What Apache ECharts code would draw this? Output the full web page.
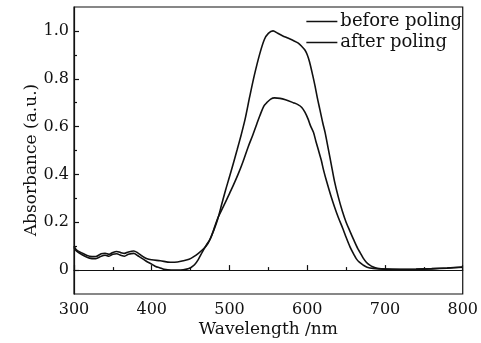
<!DOCTYPE html>
<html>
<head>
<meta charset="utf-8">
<script src="https://cdn.jsdelivr.net/npm/echarts@6/dist/echarts.min.js"></script>
<style>html,body{margin:0;padding:0;background:#fff;}#c{width:481px;height:343px;}</style>
</head>
<body>
<div id="c"></div>
<script>
// Wavelength (nm) and absorbance
const beforeWl = [300,303,310,320,328,335,340,345,350,355,360,365,370,377,382,388,394,400,405,410,416,425,437,445,450,455,460,465,470,475,480,485,490,495,500,505,510,515,520,526,532,539,545,550,556,562,568,575,582,588,593,597,600,603,607,610,613,616,620,623,627,631,635,640,645,650,655,660,665,668,672,676,680,685,690,700,720,740,760,780,800];
const beforeAbs = [0.095,0.08,0.065,0.05,0.048,0.058,0.062,0.058,0.066,0.068,0.062,0.058,0.066,0.07,0.06,0.048,0.035,0.025,0.015,0.01,0.003,0.0,0.0,0.004,0.01,0.022,0.045,0.075,0.103,0.13,0.168,0.215,0.275,0.335,0.39,0.447,0.505,0.565,0.63,0.725,0.815,0.905,0.965,0.99,1.0,0.99,0.98,0.97,0.96,0.95,0.935,0.92,0.9,0.87,0.815,0.77,0.72,0.675,0.615,0.575,0.508,0.44,0.372,0.305,0.248,0.2,0.162,0.125,0.09,0.073,0.05,0.033,0.022,0.013,0.008,0.004,0.002,0.003,0.005,0.008,0.012];
const afterWl = [300,303,310,320,328,335,340,345,350,355,360,365,370,377,382,388,394,400,411,424,433,441,448,454,460,467,472,476,480,485,490,495,500,505,511,517,524,530,535,539,544,548,553,558,565,572,582,588,593,597,601,604,608,611,614,618,621,625,630,635,640,646,650,655,660,663,667,672,677,685,700,720,740,760,780,800];
const afterAbs = [0.1,0.085,0.072,0.058,0.057,0.068,0.07,0.066,0.074,0.078,0.073,0.07,0.076,0.08,0.072,0.058,0.047,0.043,0.039,0.033,0.034,0.039,0.045,0.056,0.07,0.09,0.11,0.135,0.172,0.218,0.252,0.285,0.32,0.355,0.4,0.45,0.515,0.565,0.61,0.645,0.685,0.7,0.715,0.72,0.718,0.712,0.7,0.692,0.68,0.66,0.632,0.605,0.576,0.54,0.506,0.46,0.418,0.37,0.315,0.265,0.22,0.172,0.137,0.097,0.065,0.048,0.033,0.021,0.012,0.007,0.004,0.003,0.004,0.006,0.009,0.013];
const seriesNames = ['before poling', 'after poling'];
const yMajorTicks = [0, 0.2, 0.4, 0.6, 0.8, 1.0];
const yMinorTicks = [0.1, 0.3, 0.5, 0.7, 0.9];

const zip = (a, b) => a.map((v, i) => [v, b[i]]);
const font = 'DejaVu Serif';
const ink = '#111';

const chart = echarts.init(document.getElementById('c'), null, {renderer: 'canvas'});
chart.setOption({
  animation: false,
  backgroundColor: '#fff',
  grid: {left: 74, top: 7, right: 18, bottom: 49, show: true, borderColor: ink, borderWidth: 1.2, containLabel: false},
  legend: {
    orient: 'vertical', right: 19, top: 11, padding: 0, itemGap: 0,
    icon: 'rect', itemWidth: 31, itemHeight: 1.5,
    textStyle: {fontFamily: font, fontSize: 18, color: ink, lineHeight: 21, padding: [0, 0, 0, -2]},
    data: seriesNames
  },
  xAxis: {
    type: 'value', min: 300, max: 800, interval: 100,
    name: 'Wavelength /nm', nameLocation: 'middle', nameGap: 27, nameMoveOverlap: false,
    nameTextStyle: {fontFamily: font, fontSize: 17, color: ink},
    axisLine: {show: true, lineStyle: {color: ink, width: 1.2}},
    axisTick: {show: true, inside: true, length: 5, lineStyle: {color: ink, width: 1.2}},
    minorTick: {show: true, splitNumber: 2, length: 3, lineStyle: {color: ink, width: 1.2}},
    axisLabel: {fontFamily: font, fontSize: 16, color: ink, margin: 8},
    splitLine: {show: false}
  },
  yAxis: [{
    type: 'value', min: -0.1, max: 1.1, position: 'left',
    name: 'Absorbance (a.u.)', nameLocation: 'middle', nameGap: 34, nameRotate: 90, nameMoveOverlap: false,
    nameTextStyle: {fontFamily: font, fontSize: 17, color: ink, padding: [0, 19, 0, 0]},
    axisLine: {show: true, lineStyle: {color: ink, width: 1.2}},
    axisTick: {show: true, inside: true, length: 5, customValues: yMajorTicks, lineStyle: {color: ink, width: 1.2}},
    axisLabel: {fontFamily: font, fontSize: 16, color: ink, margin: 5, customValues: yMajorTicks,
      formatter: v => (Math.abs(v) < 1e-9 ? '0' : v.toFixed(1))},
    splitLine: {show: false}
  }, {
    type: 'value', min: -0.1, max: 1.1, position: 'left', offset: 0,
    axisLine: {show: false},
    axisTick: {show: true, inside: true, length: 3, customValues: yMinorTicks, lineStyle: {color: ink, width: 1.2}},
    axisLabel: {show: false, customValues: yMinorTicks},
    splitLine: {show: false}
  }],
  series: [{
    name: seriesNames[0], type: 'line', data: zip(beforeWl, beforeAbs),
    symbol: 'none', smooth: 0.3, lineStyle: {color: ink, width: 1.6}, itemStyle: {color: ink}
  }, {
    name: seriesNames[1], type: 'line', data: zip(afterWl, afterAbs),
    symbol: 'none', smooth: 0.3, lineStyle: {color: ink, width: 1.6}, itemStyle: {color: ink}
  }]
});
</script>
</body>
</html>
